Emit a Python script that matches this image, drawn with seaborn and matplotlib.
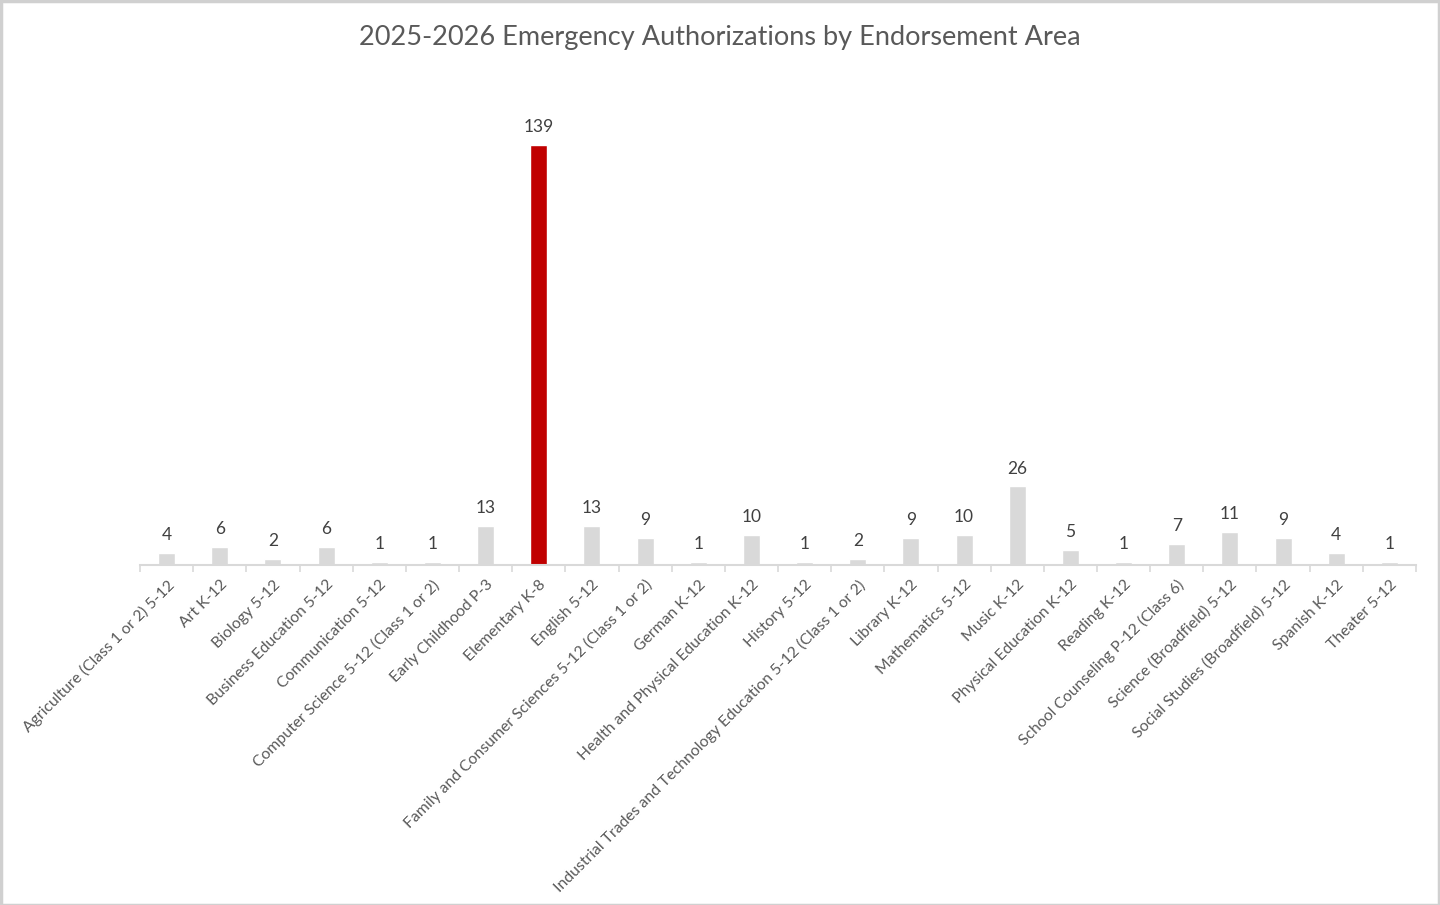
import matplotlib
matplotlib.use("Agg")
import matplotlib.pyplot as plt
from matplotlib import font_manager
from matplotlib.patches import Rectangle
from matplotlib.ticker import FixedLocator
import seaborn as sns
import pandas as pd
import numpy as np

categories = [
    "Agriculture (Class 1 or 2) 5-12", "Art K-12", "Biology 5-12", "Business Education 5-12",
    "Communication 5-12", "Computer Science 5-12 (Class 1 or 2)", "Early Childhood P-3",
    "Elementary K-8", "English 5-12", "Family and Consumer Sciences 5-12 (Class 1 or 2)",
    "German K-12", "Health and Physical Education K-12", "History 5-12",
    "Industrial Trades and Technology Education 5-12 (Class 1 or 2)", "Library K-12",
    "Mathematics 5-12", "Music K-12", "Physical Education K-12", "Reading K-12",
    "School Counseling P-12 (Class 6)", "Science (Broadfield) 5-12",
    "Social Studies (Broadfield) 5-12", "Spanish K-12", "Theater 5-12",
]
values = [4, 6, 2, 6, 1, 1, 13, 139, 13, 9, 1, 10, 1, 2, 9, 10, 26, 5, 1, 7, 11, 9, 4, 1]
highlight = "Elementary K-8"
title = "2025-2026 Emergency Authorizations by Endorsement Area"

available = {f.name for f in font_manager.fontManager.ttflist}
font = "DejaVu Sans"
for cand in ["Lato", "Open Sans", "Liberation Sans"]:
    if cand in available:
        font = cand
        break

sns.set_theme(style="white")
plt.rcParams["font.family"] = [font, "DejaVu Sans"]

df = pd.DataFrame({"cat": categories, "val": values})
palette = {c: ("#C00000" if c == highlight else "#D9D9D9") for c in categories}

W, H = 1440, 905
fig = plt.figure(figsize=(W / 100, H / 100), dpi=100)
ax_left, ax_right, ax_base, ax_top = 140, 1416, 565, 85
ax = fig.add_axes([ax_left / W, 1 - ax_base / H, (ax_right - ax_left) / W, (ax_base - ax_top) / H])

sns.barplot(data=df, x="cat", y="val", hue="cat", palette=palette, legend=False,
            width=0.32, ax=ax, saturation=1)

n = len(categories)
ax.set_xlim(-0.5, n - 0.5)
ax.set_ylim(0, 158.8)
ax.set_xlabel("")
ax.set_ylabel("")
ax.set_yticks([])
for s in ["top", "right", "left"]:
    ax.spines[s].set_visible(False)
ax.spines["bottom"].set_color("#D9D9D9")
ax.spines["bottom"].set_linewidth(1.5)

ax.set_xticks(range(n))
ax.set_xticklabels(categories, rotation=45, ha="right", rotation_mode="anchor",
                   fontsize=11.3, color="#595959")
ax.tick_params(axis="x", which="major", length=0, pad=9)
ax.xaxis.set_minor_locator(FixedLocator(np.arange(-0.5, n, 1.0)))
ax.tick_params(axis="x", which="minor", length=5, width=1.2, color="#D9D9D9", bottom=True)

for i, v in enumerate(values):
    ax.annotate(str(v), (i, v), xytext=(0, 7), textcoords="offset points",
                ha="center", va="bottom", fontsize=12.5, color="#404040")

fig.text(0.5, 1 - 37 / H, title, ha="center", va="center", fontsize=19.5, color="#595959")

fig.patches.append(Rectangle((0.5 / W, 0.5 / H), 1 - 1.5 / W, 1 - 2 / H, transform=fig.transFigure,
                             fill=False, edgecolor="#D0D0D0", linewidth=2.5))

fig.savefig("out.png", dpi=100)
